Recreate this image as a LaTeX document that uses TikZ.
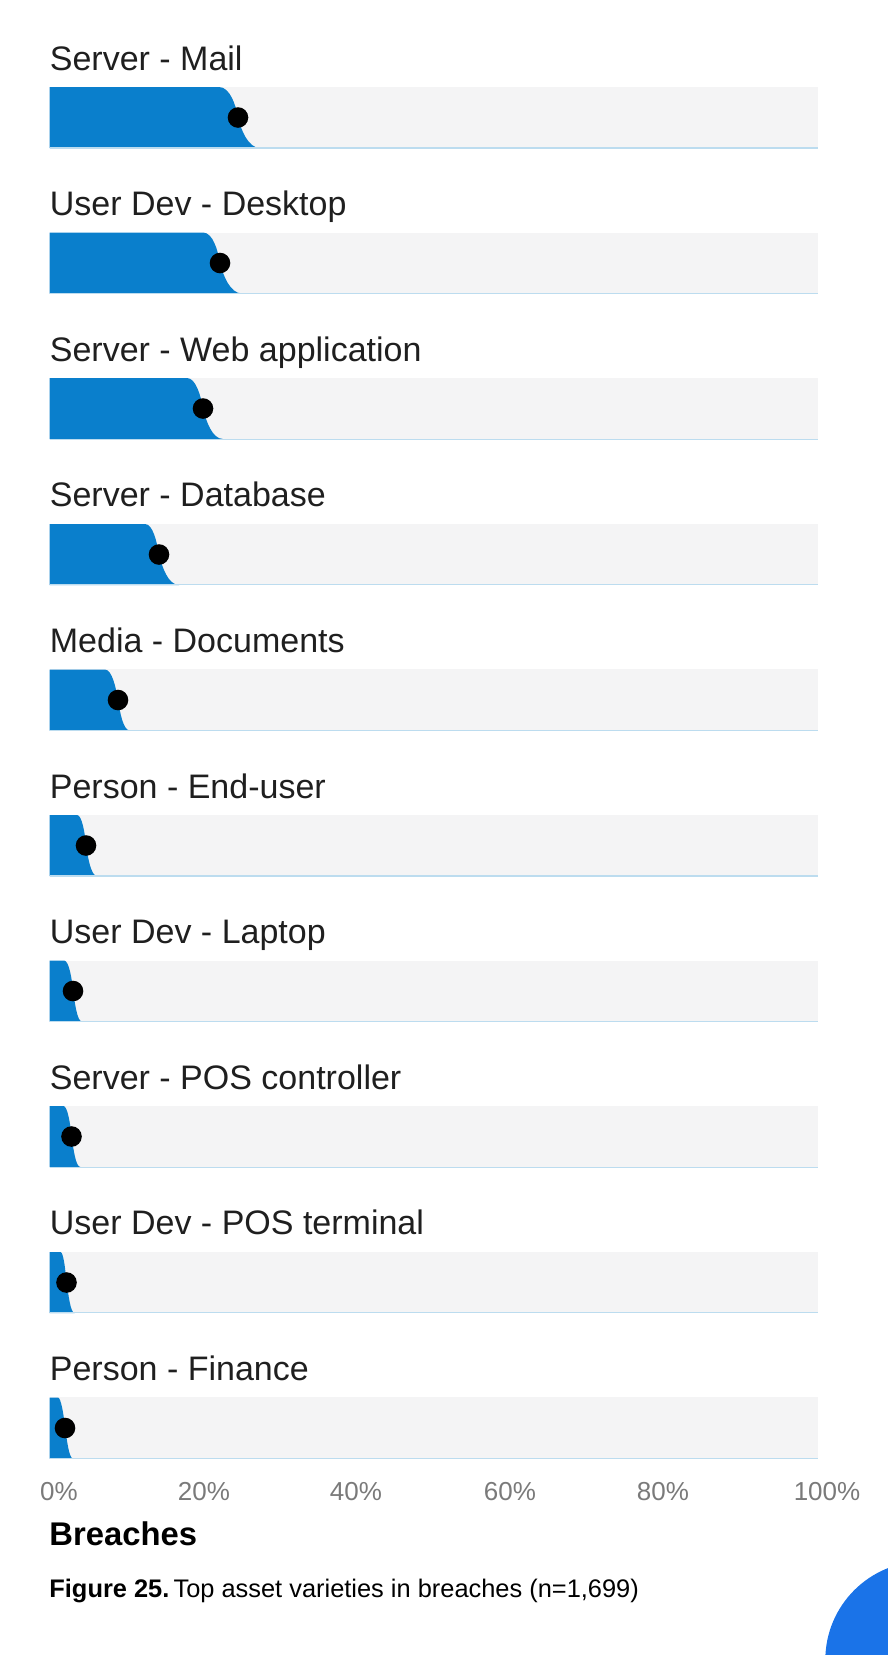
\documentclass[tikz,border=0pt]{standalone}
\usepackage{fontspec}
\setmainfont{Liberation Sans}
\usepackage{xcolor}
\usetikzlibrary{positioning}

\definecolor{barblue}{HTML}{0A7FCC}
\definecolor{trackgray}{HTML}{F4F4F5}
\definecolor{lineblue}{HTML}{BCDCEF}
\definecolor{ticktext}{HTML}{7A7A7A}
\definecolor{logoblue}{HTML}{1A73E8}

\begin{document}
\begin{tikzpicture}[x=0.5pt, y=-0.5pt, node distance=42.3pt,
track/.style={rectangle,fill=trackgray,inner sep=0pt,outer sep=0pt,minimum width=384.25pt,minimum height=30.5pt},
cat/.style={inner sep=0pt,font=\fontsize{17}{20}\selectfont,text=black!88},
bar/.style={fill=barblue},
dot/.style={circle,fill=black,inner sep=0pt,minimum size=10.3pt},
baseline/.style={lineblue,line width=0.6pt},
tick/.style={inner sep=0pt,anchor=base,font=\fontsize{13}{15}\selectfont,text=ticktext}
]
\useasboundingbox (0,0) rectangle (888,1655);

%create tracks
\node[track] (t1) at (433.75,117.5) {};
\node[track, below=of t1] (t2) {};
\node[track, below=of t2] (t3) {};
\node[track, below=of t3] (t4) {};
\node[track, below=of t4] (t5) {};
\node[track, below=of t5] (t6) {};
\node[track, below=of t6] (t7) {};
\node[track, below=of t7] (t8) {};
\node[track, below=of t8] (t9) {};
\node[track, below=of t9] (t10) {};

%create labels
\node[cat, above=8.5pt of t1.north west, anchor=base west] (l1) {Server - Mail};
\node[cat, above=8.5pt of t2.north west, anchor=base west] (l2) {User Dev - Desktop};
\node[cat, above=8.5pt of t3.north west, anchor=base west] (l3) {Server - Web application};
\node[cat, above=8.5pt of t4.north west, anchor=base west] (l4) {Server - Database};
\node[cat, above=8.5pt of t5.north west, anchor=base west] (l5) {Media - Documents};
\node[cat, above=8.5pt of t6.north west, anchor=base west] (l6) {Person - End-user};
\node[cat, above=8.5pt of t7.north west, anchor=base west] (l7) {User Dev - Laptop};
\node[cat, above=8.5pt of t8.north west, anchor=base west] (l8) {Server - POS controller};
\node[cat, above=8.5pt of t9.north west, anchor=base west] (l9) {User Dev - POS terminal};
\node[cat, above=8.5pt of t10.north west, anchor=base west] (l10) {Person - Finance};

%draw bars
\fill[bar] (49.5,148) -- (49.5,87) -- (219,87) .. controls +(11,0) and +(-2,-12) .. (238,117.5) .. controls +(3,12) and +(-12,0) .. (260,148) -- cycle;
\fill[bar] (49.5,293.5) -- (49.5,232.5) -- (203,232.5) .. controls +(10,0) and +(-2,-12) .. (220,263) .. controls +(3,12) and +(-12,0) .. (242,293.5) -- cycle;
\fill[bar] (49.5,439) -- (49.5,378) -- (187,378) .. controls +(9,0) and +(-2,-12) .. (203,408.5) .. controls +(3,12) and +(-11,0) .. (223,439) -- cycle;
\fill[bar] (49.5,585) -- (49.5,524) -- (145,524) .. controls +(8,0) and +(-2,-12) .. (159,554.5) .. controls +(3,12) and +(-11,0) .. (179,585) -- cycle;
\fill[bar] (49.5,730.5) -- (49.5,669.5) -- (105,669.5) .. controls +(7,0) and +(-2,-12) .. (118,700) .. controls +(2,12) and +(-7,0) .. (130,730.5) -- cycle;
\fill[bar] (49.5,876) -- (49.5,815) -- (77,815) .. controls +(5,0) and +(-1,-12) .. (86,845.5) .. controls +(2,12) and +(-6,0) .. (97,876) -- cycle;
\fill[bar] (49.5,1021.5) -- (49.5,960.5) -- (64,960.5) .. controls +(5,0) and +(-1,-12) .. (73,991) .. controls +(2,12) and +(-5,0) .. (82,1021.5) -- cycle;
\fill[bar] (49.5,1167) -- (49.5,1106) -- (63.5,1106) .. controls +(4,0) and +(-1,-12) .. (71.5,1136.5) .. controls +(2,12) and +(-5,0) .. (80.5,1167) -- cycle;
\fill[bar] (49.5,1313) -- (49.5,1252) -- (60.5,1252) .. controls +(3,0) and +(-1,-12) .. (66.5,1282.5) .. controls +(2,12) and +(-4,0) .. (74.5,1313) -- cycle;
\fill[bar] (49.5,1458.5) -- (49.5,1397.5) -- (58,1397.5) .. controls +(3,0) and +(-1,-12) .. (65,1428) .. controls +(2,12) and +(-4,0) .. (73,1458.5) -- cycle;

%draw base lines
\draw[baseline] (t1.south west) -- (t1.south east);
\draw[baseline] (t2.south west) -- (t2.south east);
\draw[baseline] (t3.south west) -- (t3.south east);
\draw[baseline] (t4.south west) -- (t4.south east);
\draw[baseline] (t5.south west) -- (t5.south east);
\draw[baseline] (t6.south west) -- (t6.south east);
\draw[baseline] (t7.south west) -- (t7.south east);
\draw[baseline] (t8.south west) -- (t8.south east);
\draw[baseline] (t9.south west) -- (t9.south east);
\draw[baseline] (t10.south west) -- (t10.south east);

%create dots
\node[dot] (d1) at (238,117.5) {};
\node[dot] (d2) at (220,263) {};
\node[dot] (d3) at (203,408.5) {};
\node[dot] (d4) at (159,554.5) {};
\node[dot] (d5) at (118,700) {};
\node[dot] (d6) at (86,845.5) {};
\node[dot] (d7) at (73,991) {};
\node[dot] (d8) at (71.5,1136.5) {};
\node[dot] (d9) at (66.5,1282.5) {};
\node[dot] (d10) at (65,1428) {};

%axis labels
\node[tick] (x0) at (59,1500) {0\%};
\node[tick] (x20) at (204,1500) {20\%};
\node[tick] (x40) at (356,1500) {40\%};
\node[tick] (x60) at (510,1500) {60\%};
\node[tick] (x80) at (663,1500) {80\%};
\node[tick] (x100) at (827,1500) {100\%};

%title and caption
\node[inner sep=0pt, anchor=base west, font=\fontsize{16.4}{19}\selectfont\bfseries] (title) at (49,1545) {Breaches};
\node[inner sep=0pt, anchor=base west, font=\fontsize{12.7}{15}\selectfont] (caption) at (49,1597) {\textbf{Figure 25.}\,Top asset varieties in breaches (n=1,699)};

%logo corner
\fill[logoblue] (924,1660) circle [radius=98.7];
\end{tikzpicture}
\end{document}
